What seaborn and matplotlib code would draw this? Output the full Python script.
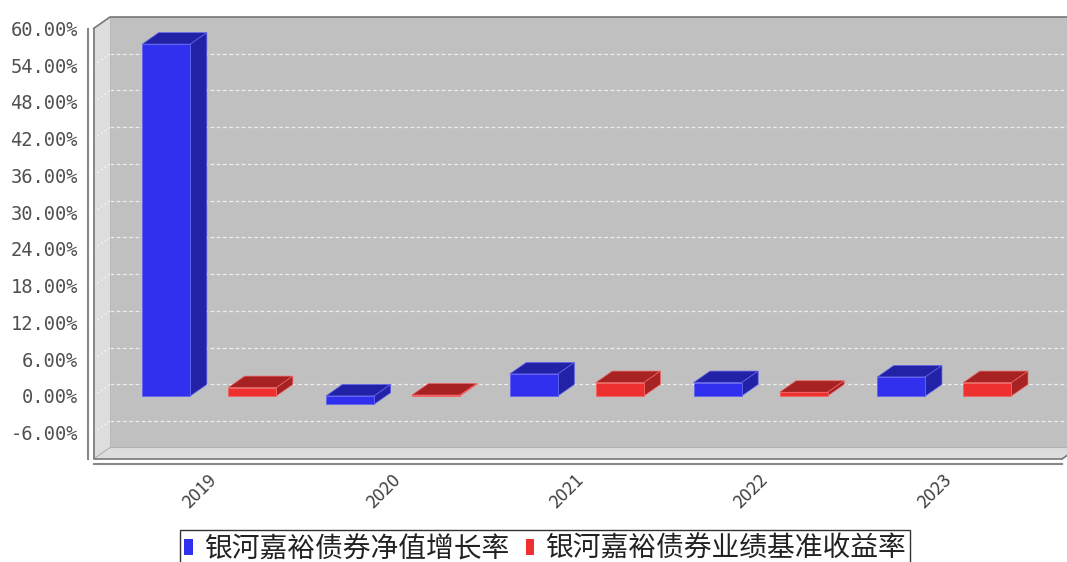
import matplotlib
matplotlib.use('Agg')
import matplotlib.pyplot as plt
import numpy as np
import pandas as pd
import seaborn as sns
from matplotlib.patches import Polygon, Patch
from matplotlib.transforms import ScaledTranslation

# Data (percent)
years = ['2019', '2020', '2021', '2022', '2023']
series_names = ['银河嘉裕债券净值增长率', '银河嘉裕债券业绩基准收益率']
nav_growth = [57.45, -1.36, 3.59, 2.18, 3.10]
benchmark = [1.36, 0.15, 2.18, 0.60, 2.18]
y_ticks = [-6, 0, 6, 12, 18, 24, 30, 36, 42, 48, 54, 60]
y_tick_labels = [f'{v:.2f}%' for v in y_ticks]

colors = ['#3030EE', '#EE3030']

df = pd.DataFrame({
    'year': years * 2,
    'series': [series_names[0]] * len(years) + [series_names[1]] * len(years),
    'value': nav_growth + benchmark,
})

sns.set_style('white')
plt.rcParams['font.family'] = ['Noto Sans CJK SC', 'DejaVu Sans']

W, H = 1067, 562
fig = plt.figure(figsize=(W / 100, H / 100), dpi=100)
# front plane of the 3D plot, in pixels
left_px, right_px, top_px, bottom_px = 93.5, 1062, 28.5, 459
ax = fig.add_axes([left_px / W, (H - bottom_px) / H,
                   (right_px - left_px) / W, (bottom_px - top_px) / H])
ax.patch.set_visible(False)

sns.barplot(data=df, x='year', y='value', hue='series', hue_order=series_names,
            palette=colors, width=0.936, gap=0.44, saturation=1,
            errorbar=None, legend=False, ax=ax)
bars = list(ax.patches)

x0, x1 = -0.63, 4.64
y0, y1 = -10.3, 60
ax.set_xlim(x0, x1)
ax.set_ylim(y0, y1)
ax.set_xlabel('')
ax.set_ylabel('')

# depth of the 3D effect in pixels
dx, dy = 16.5, 11.5


def shift(x, y):
    d = ax.transData.transform((x, y))
    return tuple(ax.transData.inverted().transform(d + np.array([dx, dy])))


wall_side = '#DDDDDD'
wall_back = '#C0C0C0'
edge_grey = '#888888'

back = Polygon([shift(x0, y0), shift(x1, y0), shift(x1, y1), shift(x0, y1)],
               closed=True, facecolor=wall_back, edgecolor='none', clip_on=False, zorder=0.1)
side = Polygon([(x0, y0), (x0, y1), shift(x0, y1), shift(x0, y0)],
               closed=True, facecolor=wall_side, edgecolor='none', clip_on=False, zorder=0.1)
floor = Polygon([(x0, y0), (x1, y0), shift(x1, y0), shift(x0, y0)],
                closed=True, facecolor=wall_side, edgecolor='none', clip_on=False, zorder=0.1)
for p in (back, side, floor):
    ax.add_patch(p)

# gridlines on the back wall and the side wall
off = ScaledTranslation(dx / 100, dy / 100, fig.dpi_scale_trans)
for v in y_ticks[:-1]:
    ax.plot([x0, x1], [v, v], transform=ax.transData + off, color='#EEEEEE',
            lw=0.9, ls=(0, (3, 2)), clip_on=False, zorder=0.5)
    sx, sy = shift(x0, v)
    ax.plot([x0, sx], [v, sy], color='#F4F4F4', lw=0.8, ls=(0, (2, 2)),
            clip_on=False, zorder=0.5)

# outline of the plot box
tl = shift(x0, y1)
tr = shift(x1, y1)
bl = shift(x0, y0)
br = shift(x1, y0)
ax.plot([x0, x0, x1], [y1, y0, y0], color='#777777', lw=1.2, clip_on=False, zorder=0.6)
ax.plot([x0, tl[0], tr[0]], [y1, tl[1], tr[1]], color='#777777', lw=1.2, clip_on=False, zorder=0.6)
ax.plot([x1, br[0], tr[0]], [y0, br[1], tr[1]], color='#777777', lw=1.2, clip_on=False, zorder=0.6)
ax.plot([x0, bl[0], br[0]], [y0, bl[1], br[1]], color='#B0B0B0', lw=0.8, clip_on=False, zorder=0.55)
ax.plot([bl[0], tl[0]], [bl[1], tl[1]], color='#B8B8B8', lw=0.6, clip_on=False, zorder=0.55)

# 3D faces of the bars
for p in bars:
    fc = np.array(p.get_facecolor()[:3])
    dark = fc * 0.7
    light = fc * 0.75 + 0.25
    p.set_edgecolor(light)
    p.set_linewidth(0.6)
    p.set_zorder(3)
    bx0 = p.get_x()
    bx1 = bx0 + p.get_width()
    ya = p.get_y()
    yb = ya + p.get_height()
    top, bot = max(ya, yb), min(ya, yb)
    topface = Polygon([(bx0, top), (bx1, top), shift(bx1, top), shift(bx0, top)],
                      closed=True, facecolor=dark, edgecolor=light, lw=0.5, zorder=2, clip_on=False)
    sideface = Polygon([(bx1, bot), (bx1, top), shift(bx1, top), shift(bx1, bot)],
                       closed=True, facecolor=dark, edgecolor=light, lw=0.5, zorder=2, clip_on=False)
    ax.add_patch(topface)
    ax.add_patch(sideface)

# axes
ax.spines['top'].set_visible(False)
ax.spines['right'].set_visible(False)
ax.spines['left'].set_position(('outward', 4.3))
ax.spines['bottom'].set_position(('outward', 3.6))
for s in ('left', 'bottom'):
    ax.spines[s].set_color(edge_grey)
    ax.spines[s].set_linewidth(1.5)

ax.set_yticks(y_ticks)
ax.set_yticklabels(y_tick_labels)
ax.tick_params(axis='y', direction='out', length=4, width=1, color=edge_grey,
               labelcolor='#505050', labelsize=13.5, pad=3)
for lbl in ax.get_yticklabels():
    lbl.set_fontfamily('DejaVu Sans Mono')

ax.tick_params(axis='x', direction='out', length=3, width=1, color=edge_grey,
               labelcolor='#404040', labelsize=13, pad=2)
lab_off = ScaledTranslation(11 / 100, 0, fig.dpi_scale_trans)
for lbl in ax.get_xticklabels():
    lbl.set_rotation(45)
    lbl.set_ha('right')
    lbl.set_va('top')
    lbl.set_transform(lbl.get_transform() + lab_off)

# legend
handles = [Patch(facecolor=c, edgecolor='none') for c in colors]
leg = fig.legend(handles, series_names, loc='upper center',
                 bbox_to_anchor=(545 / W, 1 - 530 / H), bbox_transform=fig.transFigure,
                 ncol=2, fontsize=20, frameon=True, fancybox=False, edgecolor='black',
                 borderpad=0.15, handlelength=0.3, handleheight=0.5, handletextpad=0.4,
                 columnspacing=0.6, borderaxespad=0)
leg.get_frame().set_linewidth(1.0)
for t in leg.get_texts():
    t.set_color('#222222')

fig.savefig('out.png', dpi=100)
